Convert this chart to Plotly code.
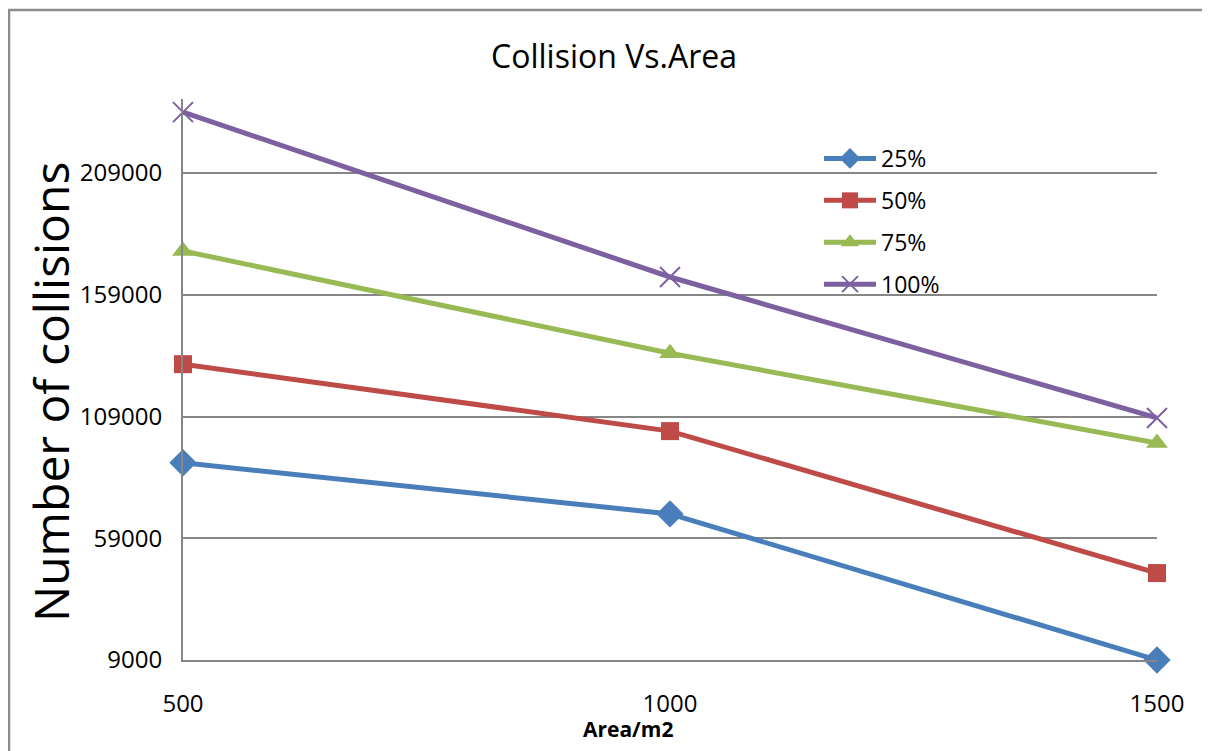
import plotly.graph_objects as go

areas = [500, 1000, 1500]
series_names = ["25%", "50%", "75%", "100%"]
vals_25 = [90000, 69000, 9000]
vals_50 = [130500, 103000, 44700]
vals_75 = [177000, 135000, 98100]
vals_100 = [234000, 166300, 108400]
y_ticks = [9000, 59000, 109000, 159000, 209000]
x_ticks = [500, 1000, 1500]

colors = ["#4A7EBB", "#BE4B48", "#98B954", "#7D60A0"]
symbols = ["diamond", "square", "triangle-up", "x-thin-open"]
sizes = [21, 18, 19, 20]
all_vals = [vals_25, vals_50, vals_75, vals_100]

FONT = "Open Sans"
OFF = 8  # page body offset

W, H = 1210, 751
# plot area in page pixels (reference): x 183..1157, y 99..660
L = 183 - OFF
T = 99 - OFF
R = W - (1157 - OFF)
B = H - (660 - OFF)
pw, ph = W - L - R, H - T - B

def px(x):
    return (x - OFF - L) / pw

def py(y):
    return 1 - (y - OFF - T) / ph

fig = go.Figure()
for i, (name, vals) in enumerate(zip(series_names, all_vals)):
    fig.add_trace(go.Scatter(
        x=areas, y=vals, name=name, mode="lines+markers",
        legendgroup=name,
        line=dict(color=colors[i], width=5),
        marker=dict(symbol=symbols[i], size=sizes[i], color=colors[i],
                    line=dict(color=colors[i], width=2 if i == 3 else 0)),
        cliponaxis=False,
    ))

fig.update_layout(
    width=W, height=H,
    margin=dict(l=L, r=R, t=T, b=B),
    paper_bgcolor="white", plot_bgcolor="white",
    font=dict(family=FONT, color="black"),
    showlegend=True,
    legend=dict(x=px(819), y=py(137), xanchor="left", yanchor="top",
                font=dict(size=23, family=FONT), bgcolor="rgba(0,0,0,0)",
                tracegroupgap=9, itemwidth=52),
    xaxis=dict(range=[500, 1500], tickvals=x_ticks, ticktext=[str(v) for v in x_ticks],
               showgrid=False, zeroline=False, showline=True, linecolor="#868686",
               linewidth=2, ticks="", tickfont=dict(size=24, family=FONT),
               ticklabelstandoff=21),
    yaxis=dict(range=[9000, 239400], tickvals=y_ticks, ticktext=[str(v) for v in y_ticks],
               showgrid=True, gridcolor="#868686", gridwidth=1.5, zeroline=False,
               showline=True, linecolor="#868686", linewidth=2, ticks="",
               tickfont=dict(size=24, family=FONT), ticklabelstandoff=14),
    annotations=[
        dict(text="Collision Vs.Area", x=px(614), y=py(55), xref="paper", yref="paper",
             xanchor="center", yanchor="middle",
             showarrow=False, font=dict(size=32, family=FONT)),
        dict(text="Number of collisions", x=px(50), y=py(392), xref="paper", yref="paper",
             xanchor="center", yanchor="middle",
             showarrow=False, textangle=-90, font=dict(size=48, family=FONT)),
        dict(text="<b>Area/m2</b>", x=px(628), y=py(729), xref="paper", yref="paper",
             xanchor="center", yanchor="middle",
             showarrow=False, font=dict(size=21, family=FONT)),
    ],
    shapes=[
        dict(type="rect", xref="paper", yref="paper", x0=px(9), x1=px(1240),
             y0=py(790), y1=py(10), line=dict(color="#8c8c8c", width=2.5),
             fillcolor="rgba(0,0,0,0)", layer="below"),
    ],
)

fig.write_html("out.html")
